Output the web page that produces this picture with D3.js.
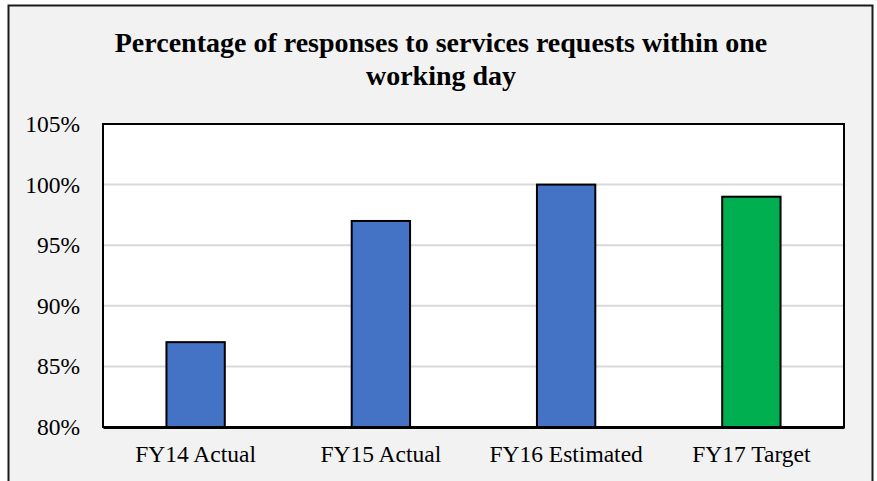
<!DOCTYPE html>
<html>
<head>
<meta charset="utf-8">
<script src="https://cdn.jsdelivr.net/npm/d3@7"></script>
<style>
  html, body { margin: 0; padding: 0; background: #ffffff; }
  svg { display: block; }
</style>
</head>
<body>
<svg id="chart" width="877" height="481"></svg>
<script>
// Chart data
const categories = ["FY14 Actual", "FY15 Actual", "FY16 Estimated", "FY17 Target"];
const values = [87, 97, 100, 99];
const barColors = ["#4472C4", "#4472C4", "#4472C4", "#00B050"];
const yTicks = [80, 85, 90, 95, 100, 105];
const titleLines = ["Percentage of responses to services requests within one", "working day"];

const svg = d3.select("#chart");
const serif = "'Liberation Serif', 'Times New Roman', serif";

// Chart background panel
svg.append("rect")
  .attr("x", 8.5).attr("y", 5.5)
  .attr("width", 864).attr("height", 490)
  .attr("fill", "#f2f2f2")
  .attr("stroke", "#1a1a1a")
  .attr("stroke-width", 2);

// Title
const title = svg.append("text")
  .attr("text-anchor", "middle")
  .style("font-family", serif)
  .style("font-weight", "bold")
  .style("font-size", "28px")
  .attr("fill", "#000");
titleLines.forEach((t, i) => {
  title.append("tspan").attr("x", 441).attr("y", 52 + i * 33).text(t);
});

// Plot area
const plot = { left: 103, top: 124, right: 844, bottom: 427 };

const x = d3.scaleBand()
  .domain(categories)
  .range([plot.left, plot.right])
  .paddingInner(0.685)
  .paddingOuter(0.3425);

const y = d3.scaleLinear()
  .domain([80, 105])
  .range([plot.bottom, plot.top]);

svg.append("rect")
  .attr("x", plot.left).attr("y", plot.top)
  .attr("width", plot.right - plot.left).attr("height", plot.bottom - plot.top)
  .attr("fill", "#ffffff");

// Horizontal gridlines
svg.append("g")
  .selectAll("line")
  .data(yTicks.filter(d => d > 80 && d < 105))
  .join("line")
  .attr("x1", plot.left).attr("x2", plot.right)
  .attr("y1", d => y(d)).attr("y2", d => y(d))
  .attr("stroke", "#d9d9d9")
  .attr("stroke-width", 2);

// Bars
svg.append("g")
  .selectAll("rect")
  .data(categories)
  .join("rect")
  .attr("x", d => x(d))
  .attr("y", (d, i) => y(values[i]))
  .attr("width", x.bandwidth())
  .attr("height", (d, i) => y(80) - y(values[i]))
  .attr("fill", (d, i) => barColors[i])
  .attr("stroke", "#000")
  .attr("stroke-width", 2);

// Plot frame
svg.append("rect")
  .attr("x", plot.left).attr("y", plot.top)
  .attr("width", plot.right - plot.left).attr("height", plot.bottom - plot.top)
  .attr("fill", "none")
  .attr("stroke", "#000")
  .attr("stroke-width", 2);

// Y axis
const yAxis = svg.append("g")
  .attr("transform", `translate(${plot.left},0)`)
  .call(d3.axisLeft(y).tickValues(yTicks).tickFormat(d => d + "%").tickSize(0).tickPadding(23));
yAxis.attr("font-family", null).attr("font-size", null);
yAxis.select(".domain").remove();
yAxis.selectAll("text")
  .style("font-family", serif)
  .style("font-size", "23.5px")
  .attr("fill", "#000");

// X axis
const xAxis = svg.append("g")
  .attr("transform", `translate(0,${plot.bottom})`)
  .call(d3.axisBottom(x).tickSize(0).tickPadding(18));
xAxis.attr("font-family", null).attr("font-size", null);
xAxis.select(".domain")
  .attr("stroke", "#000")
  .attr("stroke-width", 3);
xAxis.selectAll("text")
  .style("font-family", serif)
  .style("font-size", "23.5px")
  .attr("fill", "#000");
</script>
</body>
</html>
